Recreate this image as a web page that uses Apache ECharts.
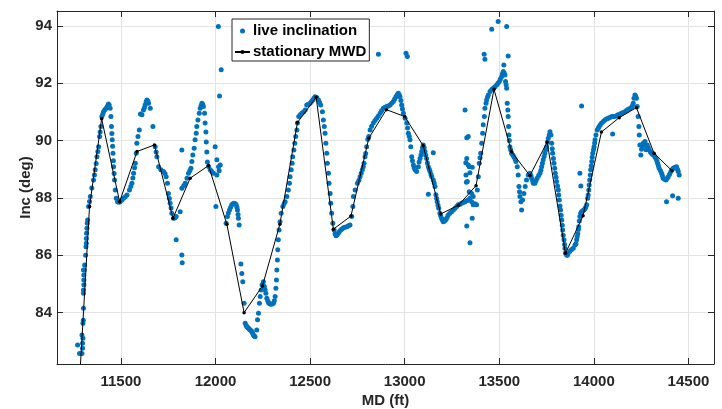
<!DOCTYPE html>
<html>
<head>
<meta charset="utf-8">
<script src="https://cdn.jsdelivr.net/npm/echarts@6/dist/echarts.min.js"></script>
<style>
html,body{margin:0;padding:0;background:#fff;}
#chart{width:722px;height:409px;}
</style>
</head>
<body>
<div id="chart"></div>
<script>
// ---- data ----
const xTicks = [11500, 12000, 12500, 13000, 13500, 14000, 14500];
const yTicks = [84, 86, 88, 90, 92, 94];

const mwdMD  = [11280, 11334, 11398, 11493, 11585, 11677, 11775, 11866, 11963, 12060, 12151, 12248, 12340, 12433, 12532, 12623, 12716, 12810, 12903, 13000, 13098, 13190, 13285, 13377, 13472, 13565, 13662, 13753, 13850, 13943, 14040, 14134, 14225, 14318, 14413];
const mwdInc = [81.5, 87.70, 90.76, 87.87, 89.62, 89.85, 87.29, 88.69, 89.13, 87.08, 84.00, 84.93, 87.08, 90.63, 91.51, 86.91, 87.37, 90.08, 91.08, 90.84, 89.82, 87.44, 87.75, 88.43, 91.79, 89.61, 88.78, 89.95, 86.07, 87.38, 90.30, 90.80, 91.15, 89.56, 88.95];

// live inclination samples: [MD (ft), Inc (deg)]
const liveSamples = [
[11271,82.87],[11281,82.58],[11294,82.58],[11294,83.22],[11297,82.76],[11297,82.93],[11299,83.11],[11299,83.63],[11301,83.74],[11302,84.15],
[11302,84.68],[11302,84.79],[11304,84.97],[11304,85.14],[11304,85.31],[11306,85.49],[11302,85.49],[11308,85.66],[11313,86.0],[11315,86.30],
[11317,86.42],[11317,86.59],[11318,86.77],[11320,86.94],[11322,87.12],[11324,87.23],[11329,87.70],[11334,87.88],[11338,88.05],[11346,88.35],
[11355,88.63],[11360,88.80],[11364,88.98],[11369,89.2],[11373,89.44],[11378,89.62],[11382,89.79],[11387,90.14],[11390,90.30],[11394,90.49],
[11399,90.84],[11404,90.93],[11408,91.01],[11415,91.08],[11422,91.13],[11428,91.20],[11434,91.28],[11438,91.24],[11443,91.13],[11447,90.84],
[11450,90.49],[11452,90.25],[11454,90.03],[11456,89.80],[11458,89.56],[11460,89.30],[11461,89.09],[11464,88.85],[11466,88.63],[11470,88.28],
[11475,87.99],[11482,87.87],[11489,87.85],[11496,87.87],[11505,87.93],[11514,87.99],[11523,88.04],[11532,88.10],[11545,88.28],[11552,88.40],
[11558,88.51],[11563,88.70],[11567,88.86],[11572,89.05],[11576,89.21],[11581,89.56],[11584,89.91],[11590,90.14],[11597,90.37],[11603,90.93],
[11611,90.90],[11619,91.07],[11624,91.15],[11628,91.24],[11633,91.35],[11637,91.42],[11642,91.38],[11646,91.30],[11655,91.13],[11669,90.49],
[11681,89.79],[11686,89.60],[11690,89.44],[11699,89.09],[11711,88.98],[11725,88.92],[11733,88.85],[11739,88.74],[11746,88.51],[11751,88.16],
[11756,87.98],[11760,87.82],[11765,87.65],[11769,87.47],[11778,87.29],[11785,87.30],[11792,87.35],[11792,86.54],[11813,87.52],[11822,89.67],
[11822,86.01],[11824,85.74],[11822,88.34],[11832,88.43],[11840,88.51],[11849,88.69],[11857,88.86],[11864,88.95],[11870,89.04],[11875,89.27],
[11880,89.50],[11887,89.73],[11892,90.03],[11898,90.26],[11901,90.49],[11907,90.72],[11914,90.95],[11919,91.13],[11924,91.22],[11928,91.30],
[11932,91.26],[11936,91.19],[11942,90.95],[11945,90.61],[11949,90.30],[11951,89.95],[11954,89.60],[11957,89.25],[11963,89.10],[11972,88.98],
[11980,88.92],[11989,88.86],[11998,89.79],[12002,87.70],[12007,89.33],[12007,88.80],[12015,93.98],[12016,89.09],[12021,91.56],[12030,92.47],
[12025,89.15],[12019,88.95],
[12056,87.12],[12063,87.35],[12068,87.48],[12074,87.58],[12080,87.68],[12086,87.76],[12092,87.80],[12098,87.82],[12104,87.80],[12109,87.76],
[12113,87.68],[12116,87.58],[12119,87.42],[12121,87.29],[12125,87.06],[12134,85.70],[12139,85.37],[12144,85.08],[12151,84.33],[12157,83.63],
[12162,83.55],[12166,83.51],[12170,83.48],[12174,83.46],[12179,83.43],[12183,83.40],[12188,83.37],[12192,83.34],[12196,83.28],[12200,83.22],
[12205,83.19],[12209,83.16],[12218,83.40],[12222,83.75],[12227,83.98],[12232,84.33],[12236,84.56],[12241,84.79],[12246,84.97],[12253,85.08],
[12258,84.91],[12262,84.80],[12266,84.68],[12271,84.50],[12276,84.42],[12280,84.35],[12286,84.31],[12292,84.29],[12299,84.30],[12306,84.33],
[12311,84.42],[12315,84.56],[12319,84.85],[12322,85.14],[12324,85.49],[12327,85.84],[12329,86.19],[12332,86.54],[12336,86.88],[12341,87.17],
[12347,87.47],[12356,87.70],[12362,87.80],[12368,87.87],[12377,88.05],[12385,88.28],[12391,88.51],[12394,88.74],[12400,88.98],[12405,89.21],
[12408,89.44],[12414,89.67],[12419,89.91],[12424,90.14],[12430,90.37],[12433,90.61],[12440,90.84],[12448,90.90],[12456,90.95],[12465,91.00],
[12474,91.07],[12482,91.24],[12490,91.27],[12500,91.30],[12507,91.36],[12514,91.42],[12520,91.48],[12526,91.53],[12535,91.50],[12544,91.42],
[12550,91.33],[12556,91.24],[12565,91.01],[12570,90.72],[12575,90.49],[12579,90.26],[12583,89.91],[12588,89.56],[12591,89.21],[12597,88.86],
[12600,88.51],[12606,88.16],[12609,87.82],[12614,87.47],[12620,87.12],[12627,86.88],[12632,86.75],[12637,86.68],[12643,86.72],[12649,86.77],
[12655,86.83],[12662,86.88],[12669,86.92],[12676,86.96],[12685,86.98],[12694,87.00],[12703,87.03],[12711,87.06],[12720,87.35],[12726,87.70],
[12729,88.05],[12738,88.28],[12750,88.51],[12758,88.62],[12764,88.74],[12770,88.86],[12776,88.98],[12781,89.09],[12785,89.21],[12790,89.44],
[12794,89.55],[12799,89.79],[12805,90.05],[12810,90.14],[12817,90.37],[12825,90.50],[12834,90.61],[12843,90.70],[12852,90.78],[12861,90.86],
[12870,90.95],[12878,91.04],[12887,91.13],[12896,91.16],[12905,91.19],[12914,91.21],[12922,91.24],[12931,91.30],[12940,91.36],[12947,91.45],
[12954,91.53],[12960,91.60],[12966,91.65],[12971,91.60],[12975,91.53],[12980,91.40],[12984,91.24],[12988,91.10],[12993,90.95],[13002,90.78],
[13011,90.61],[13015,90.44],[13019,90.26],[13024,90.15],[13028,90.03],[13032,89.79],[13037,89.44],[13041,89.30],[13046,89.15],[13050,89.05],
[13055,88.98],[13063,88.92],[13072,89.09],[13076,89.25],[13081,89.38],[13086,89.50],[13090,89.62],[13094,89.75],[13098,89.85],[13103,89.75],
[13107,89.62],[13111,89.50],[13116,89.38],[13120,89.22],[13125,89.09],[13125,88.13],[13130,89.00],[13134,88.92],[13139,88.82],[13143,88.74],
[13151,88.63],[13151,89.58],[13156,88.52],[13160,88.40],[13165,88.11],[13169,87.98],[13172,87.87],[13176,87.75],[13180,87.64],[13186,87.47],
[13190,87.38],[13195,87.29],[13200,87.22],[13204,87.17],[13211,87.20],[13218,87.25],[13224,87.32],[13230,87.41],[13239,87.47],[13248,87.52],
[13257,87.58],[13266,87.64],[13275,87.70],[13283,87.76],[13292,87.78],[13301,87.82],[13310,87.84],[13319,87.87],[13328,87.90],[13336,87.93],
[13345,87.99],[13354,88.16],[13354,87.87],[13362,88.05],[13362,87.76],[13371,87.80],[13380,87.76],
[12861,93.01],[13007,93.05],[13014,92.93],
[13319,91.07],[13328,90.10],[13336,90.14],[13328,89.38],[13323,89.23],[13336,89.15],[13341,89.09],[13324,88.80],[13345,88.88],[13357,89.07],
[13326,88.55],[13331,88.57],[13341,88.22],[13357,87.29],[13328,87.02],[13345,86.44],
[13384,88.28],[13389,88.74],[13394,89.21],[13398,89.40],[13402,89.56],[13407,89.91],[13412,90.26],[13415,90.55],[13421,90.84],[13424,91.13],
[13430,91.30],[13433,91.42],[13438,91.52],[13442,91.59],[13451,91.71],[13460,91.78],[13468,91.83],[13477,91.88],[13486,91.94],[13493,92.00],
[13500,92.06],[13506,92.15],[13512,92.23],[13516,92.32],[13521,92.41],[13526,92.36],[13530,92.29],[13533,92.06],[13536,91.95],[13539,91.83],
[13542,91.30],[13545,91.07],[13547,90.84],[13549,90.49],[13551,90.20],[13553,90.00],[13556,89.79],[13560,89.68],[13565,89.56],[13571,89.50],
[13577,89.44],[13583,89.36],[13588,89.27],[13595,89.09],[13600,88.80],[13604,88.40],[13607,88.22],[13609,88.05],[13614,87.87],[13618,87.58],
[13623,87.93],[13630,88.16],[13637,88.40],[13644,88.63],[13653,88.80],[13662,88.86],[13667,88.78],[13671,88.69],[13676,88.60],[13680,88.51],
[13688,88.51],[13694,88.60],[13700,88.69],[13708,88.78],[13715,88.86],[13720,88.97],[13724,89.09],[13728,89.21],[13732,89.33],[13737,89.45],
[13741,89.56],[13746,89.68],[13750,89.79],[13755,89.94],[13759,90.08],[13764,90.20],[13768,90.31],[13773,90.20],[13777,89.91],[13780,89.72],
[13782,89.56],[13786,89.38],[13789,89.21],[13793,89.04],[13796,88.86],[13800,88.72],[13803,88.57],[13808,88.42],[13812,88.28],[13814,88.10],
[13817,87.93],[13821,87.72],[13824,87.58],[13827,87.40],[13830,87.23],[13833,87.05],[13835,86.88],[13838,86.70],[13842,86.54],[13845,86.38],
[13847,86.25],[13850,86.08],[13856,86.01],[13860,86.00],[13864,86.07],[13873,86.14],[13882,86.20],[13891,86.25],[13900,86.36],[13905,86.40],
[13909,86.54],[13912,86.65],[13915,86.75],[13918,86.90],[13920,87.00],[13923,87.20],[13926,87.35],[13930,87.47],[13935,87.52],[13941,87.55],
[13947,87.58],[13953,87.62],[13957,87.68],[13962,87.76],[13967,87.99],[13970,88.10],[13973,88.28],[13975,88.45],[13978,88.63],[13981,88.80],
[13983,88.98],[13986,89.12],[13989,89.27],[13991,89.42],[13994,89.56],[13998,89.68],[14001,89.79],[14004,89.92],[14006,90.03],[14011,90.20],
[14018,90.37],[14023,90.43],[14028,90.49],[14034,90.55],[14041,90.61],[14050,90.67],[14058,90.72],[14067,90.75],[14076,90.78],[14085,90.81],
[14094,90.84],[14103,90.84],[14111,90.84],[14120,90.87],[14128,90.90],[14137,90.92],[14146,90.95],[14155,90.98],[14164,91.01],[14172,91.05],
[14181,91.09],[14190,91.12],[14199,91.16],[14204,91.22],[14208,91.30],[14212,91.48],[14217,91.59],[14221,91.55],[14225,91.48],[14229,91.19],
[14234,90.84],[14238,90.49],[14240,90.20],[14243,89.85],[14248,89.50],[14252,89.70],[14256,89.85],[14261,89.91],[14265,89.80],[14270,89.97],
[14276,89.68],[14282,89.85],[14288,89.75],[14293,89.67],[14299,89.60],[14305,89.56],[14311,89.52],[14317,89.50],[14322,89.44],[14328,89.38],
[14333,89.30],[14337,89.21],[14341,89.12],[14345,89.04],[14352,88.95],[14358,88.86],[14362,88.78],[14366,88.69],[14374,88.65],[14381,88.63],
[14387,88.68],[14393,88.74],[14400,88.83],[14407,88.92],[14413,88.98],[14419,89.04],[14428,89.07],[14437,89.09],[14442,89.00],[14446,88.92],
[14451,88.80],
[13420,93.01],[13424,92.84],[13460,93.88],[13494,94.15],[13539,93.98],[13547,92.95],[13524,92.64],[13935,91.21],[13926,88.86],[13931,88.42],
[14099,90.23],[14384,87.87],[14416,88.08],[14446,87.99]
];

// ---- chart ----
const FONT = '"Liberation Sans", Arial, Helvetica, sans-serif';
const AX = '#262626';
const chart = echarts.init(document.getElementById('chart'), null, {renderer: 'canvas'});

const mwdData = mwdMD.map((v, i) => [v, mwdInc[i]]);

const baseX = {
  type: 'value', min: 11162, max: 14635,
  axisLine: {show: true, onZero: false, lineStyle: {color: AX, width: 1}},
  axisTick: {show: true, inside: true, length: 6, customValues: xTicks, lineStyle: {color: AX}},
};
const baseY = {
  type: 'value', min: 82.21, max: 94.52,
  axisLine: {show: true, onZero: false, lineStyle: {color: AX, width: 1}},
  axisTick: {show: true, inside: true, length: 6, customValues: yTicks, lineStyle: {color: AX}},
};

chart.setOption({
  animation: false,
  backgroundColor: '#fff',
  grid: {left: 57, right: 8, top: 11, bottom: 45, containLabel: false, outerBoundsMode: 'none'},
  legend: {
    orient: 'vertical', left: 232, top: 19,
    padding: [3, 3, 0, 2],
    itemGap: 3, itemWidth: 15, itemHeight: 5,
    backgroundColor: '#fff', borderColor: AX, borderWidth: 1,
    textStyle: {fontFamily: FONT, fontWeight: 'bold', fontSize: 15, color: '#000', lineHeight: 18, padding: [0, 0, 0, -2]},
    data: ['live inclination', 'stationary MWD']
  },
  xAxis: [
    Object.assign({}, baseX, {
      position: 'bottom',
      axisLabel: {show: true, customValues: xTicks, margin: 10, fontFamily: FONT, fontWeight: 'bold', fontSize: 15, color: AX,
                  formatter: v => String(v)},
      splitLine: {show: true, lineStyle: {color: '#e3e3e3', width: 1}},
      name: 'MD (ft)', nameLocation: 'middle', nameGap: 29, nameMoveOverlap: false,
      nameTextStyle: {fontFamily: FONT, fontWeight: 'bold', fontSize: 15, color: AX}
    }),
    Object.assign({}, baseX, {
      position: 'top', axisLabel: {show: false}, splitLine: {show: false}
    })
  ],
  yAxis: [
    Object.assign({}, baseY, {
      position: 'left',
      axisLabel: {show: true, customValues: yTicks, margin: 5, fontFamily: FONT, fontWeight: 'bold', fontSize: 15, color: AX,
                  formatter: v => String(v)},
      splitLine: {show: true, lineStyle: {color: '#e3e3e3', width: 1}},
      name: 'Inc (deg)', nameLocation: 'middle', nameGap: 24, nameRotate: 90, nameMoveOverlap: false,
      nameTextStyle: {fontFamily: FONT, fontWeight: 'bold', fontSize: 15, color: AX}
    }),
    Object.assign({}, baseY, {
      position: 'right', axisLabel: {show: false}, splitLine: {show: false}
    })
  ],
  series: [
    {
      name: 'live inclination', type: 'scatter',
      xAxisIndex: 0, yAxisIndex: 0,
      data: liveSamples,
      symbol: 'circle', symbolSize: 5,
      itemStyle: {color: '#0072BD', opacity: 1},
      clip: true, silent: true, z: 2
    },
    {
      name: 'stationary MWD', type: 'line',
      xAxisIndex: 0, yAxisIndex: 0,
      data: mwdData,
      symbol: 'circle', symbolSize: 3.5, showSymbol: true,
      lineStyle: {color: '#000', width: 1},
      itemStyle: {color: '#000'},
      clip: true, silent: true, z: 3
    }
  ]
});
</script>
</body>
</html>
